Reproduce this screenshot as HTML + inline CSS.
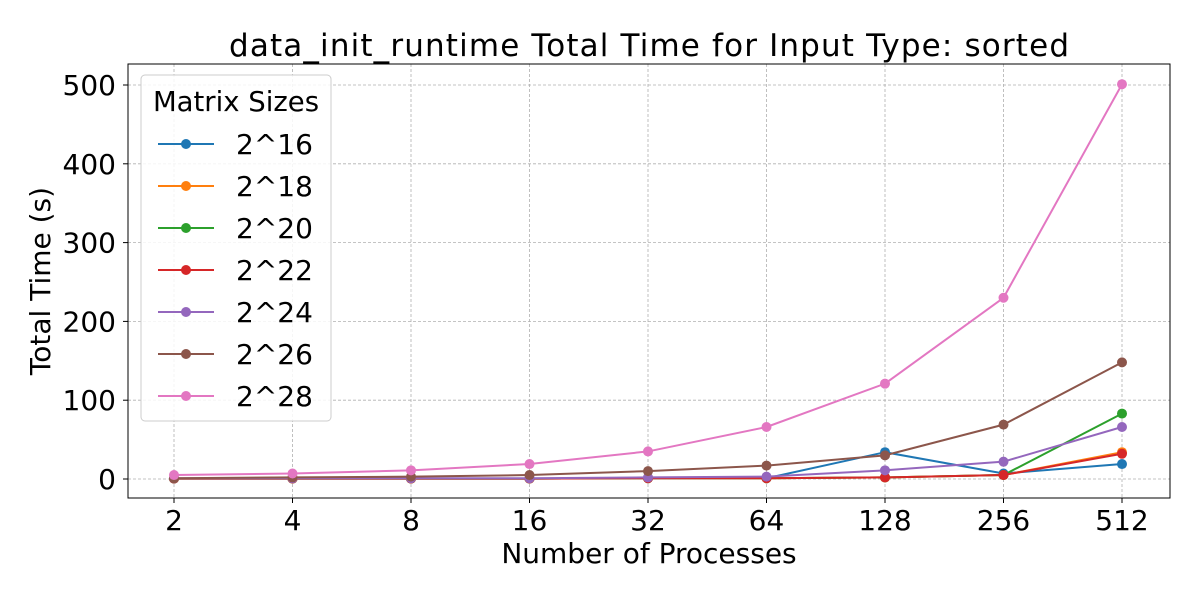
<!DOCTYPE html>
<html><head><meta charset="utf-8"><style>body{margin:0;background:#fff}svg{font-family:"DejaVu Sans","Liberation Sans",sans-serif}</style></head>
<body>
<svg id="chart" width="1200" height="600"></svg>
<script>
const categories=["2","4","8","16","32","64","128","256","512"];
const seriesNames=["2^16","2^18","2^20","2^22","2^24","2^26","2^28"];
const colors=["#1f77b4","#ff7f0e","#2ca02c","#d62728","#9467bd","#8c564b","#e377c2"];
const s16=[0.5,0.5,0.5,0.5,1,1,34,7,19];
const s18=[0.5,0.5,0.5,0.5,1,1,2,5,34];
const s20=[0.5,0.5,0.5,0.5,1,1,2,5,83];
const s22=[0.5,0.5,0.5,0.5,1,1,2,5,32];
const s24=[1,1,1,1,2,3,11,22,66];
const s26=[1,2,3,5,10,17,30,69,148];
const s28=[5,7,11,19,35,66,121,230,501];
const yTicks=[0,100,200,300,400,500];
const series=[s16,s18,s20,s22,s24,s26,s28];
const NS="http://www.w3.org/2000/svg";
const svg=document.getElementById('chart');
const L=128,R=1170,T=64,B=498;
const x=i=>174+i*118.5;
const y=v=>479-v*0.788;
function el(t,a,p){const e=document.createElementNS(NS,t);for(const k in a)e.setAttribute(k,a[k]);(p||svg).appendChild(e);return e;}
categories.forEach((c,i)=>{
 const g=el('line',{x1:x(i),x2:x(i),y1:T,y2:B,stroke:'#b0b0b0','stroke-width':0.8,'stroke-dasharray':'3,2'});
 
 el('line',{x1:x(i),x2:x(i),y1:B,y2:B+5,stroke:'#000'});
 const t=el('text',{x:x(i),y:B+32,'font-size':28,'text-anchor':'middle'});t.textContent=c;
 
});
yTicks.forEach(v=>{
 const g=el('line',{x1:L,x2:R,y1:y(v),y2:y(v),stroke:'#b0b0b0','stroke-width':0.8,'stroke-dasharray':'3,2'});
 
 el('line',{x1:L-5,x2:L,y1:y(v),y2:y(v),stroke:'#000'});
 const t=el('text',{x:L-12,y:y(v)+10,'font-size':28,'text-anchor':'end'});t.textContent=v;
 
});
series.forEach((s,k)=>{
 const p=el('polyline',{points:s.map((v,i)=>x(i)+','+y(v)).join(' '),fill:'none',stroke:colors[k],'stroke-width':2});
 
 s.forEach((v,i)=>{const c=el('circle',{cx:x(i),cy:y(v),r:5,fill:colors[k]});
 });
});
const fr=el('rect',{x:L,y:T,width:R-L,height:B-T,fill:'none',stroke:'#000','stroke-width':1});

const tt=el('text',{x:649,y:56,'font-size':31,'text-anchor':'middle',textLength:840});tt.textContent='data_init_runtime Total Time for Input Type: sorted';

const xt=el('text',{x:649,y:563,'font-size':28,'text-anchor':'middle'});xt.textContent='Number of Processes';

const yt=el('text',{x:50,y:281,'font-size':28,'text-anchor':'middle',transform:'rotate(-90 50 281)'});yt.textContent='Total Time (s)';

const lg=el('g',{});
el('rect',{x:141,y:75,width:190,height:346,rx:4,fill:'#fff','fill-opacity':0.85,stroke:'#ccc'},lg);
const lt=el('text',{x:236,y:111,'font-size':27.5,'text-anchor':'middle'},lg);lt.textContent='Matrix Sizes';
seriesNames.forEach((n,k)=>{
 const yy=144+k*42;
 const e=el('g',{},lg);
 el('line',{x1:158,x2:214,y1:yy,y2:yy,stroke:colors[k],'stroke-width':2},e);
 el('circle',{cx:186,cy:yy,r:5,fill:colors[k]},e);
 const t=el('text',{x:236,y:yy+10,'font-size':28},e);t.textContent=n;
});
</script>
</body></html>
